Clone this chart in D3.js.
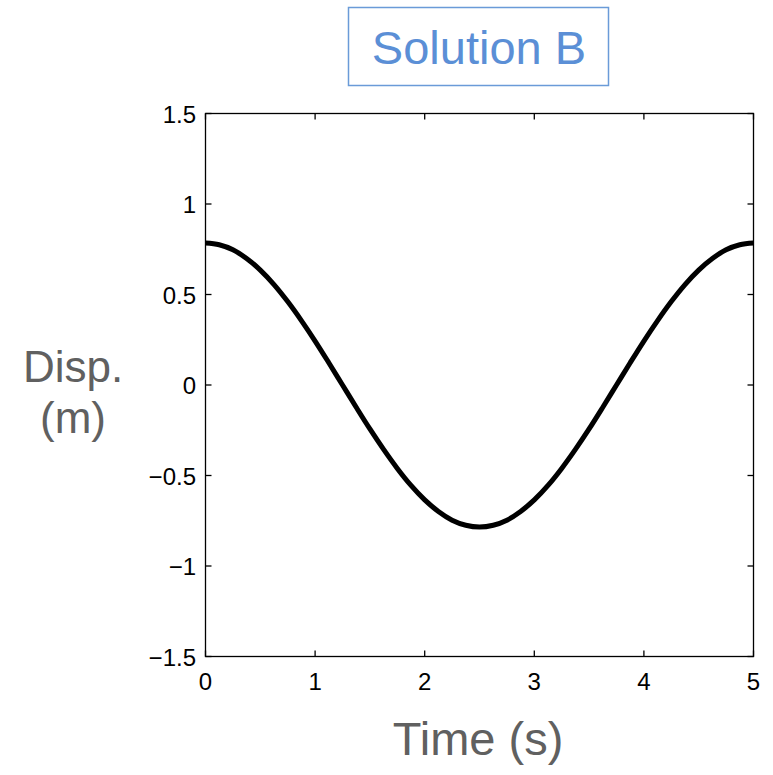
<!DOCTYPE html>
<html><head><meta charset="utf-8">
<script src="https://cdn.jsdelivr.net/npm/d3@7"></script>
<style>html,body{margin:0;padding:0;background:#fff;}svg{display:block;}</style>
</head><body>
<script>
const timeValues = [0,0.125,0.25,0.375,0.5,0.625,0.75,0.875,1,1.125,1.25,1.375,1.5,1.625,1.75,1.875,2,2.125,2.25,2.375,2.5,
  2.625,2.75,2.875,3,3.125,3.25,3.375,3.5,3.625,3.75,3.875,4,4.125,4.25,4.375,4.5,4.625,4.75,4.875,5];
const dispValues = [0.785,0.775,0.747,0.699,0.635,0.555,0.461,0.356,0.243,0.123,0,-0.123,-0.243,-0.356,-0.461,-0.555,-0.635,-0.699,-0.747,-0.775,-0.785,
  -0.775,-0.747,-0.699,-0.635,-0.555,-0.461,-0.356,-0.243,-0.123,0,0.123,0.243,0.356,0.461,0.555,0.635,0.699,0.747,0.775,0.785];
const xTicks = [0,1,2,3,4,5];
const yTicks = [-1.5,-1,-0.5,0,0.5,1,1.5];
const yTickLabels = ["\u22121.5","\u22121","\u22120.5","0","0.5","1","1.5"];

const W = 773, H = 775;
const L = 205.5, R = 753.5, T = 113.5, B = 656.5;
const svg = d3.select("body").append("svg").attr("width", W).attr("height", H);
const x = d3.scaleLinear().domain([0,5]).range([L,R]);
const y = d3.scaleLinear().domain([-1.5,1.5]).range([B,T]);
const font = "'Liberation Sans', Arial, Helvetica, sans-serif";

// title box
svg.append("rect").attr("x",348.5).attr("y",7.5).attr("width",260).attr("height",78)
  .attr("fill","none").attr("stroke","#6a9bd8").attr("stroke-width",1.5);
svg.append("text").attr("x",479).attr("y",64).attr("text-anchor","middle")
  .attr("font-family",font).attr("font-size",47).attr("fill","#5b8fd6").text("Solution B");

// plot frame
svg.append("rect").attr("x",L).attr("y",T).attr("width",R-L).attr("height",B-T)
  .attr("fill","none").attr("stroke","#000").attr("stroke-width",1.3);

const tl = 6;
const g = svg.append("g").attr("stroke","#000").attr("stroke-width",1.3);
xTicks.forEach(v => {
  g.append("line").attr("x1",x(v)).attr("x2",x(v)).attr("y1",B).attr("y2",B-tl);
  g.append("line").attr("x1",x(v)).attr("x2",x(v)).attr("y1",T).attr("y2",T+tl);
});
yTicks.forEach(v => {
  g.append("line").attr("x1",L).attr("x2",L+tl).attr("y1",y(v)).attr("y2",y(v));
  g.append("line").attr("x1",R).attr("x2",R-tl).attr("y1",y(v)).attr("y2",y(v));
});

// tick labels
svg.append("g").selectAll("text").data(xTicks).join("text")
  .attr("x",d=>x(d)).attr("y",690).attr("text-anchor","middle")
  .attr("font-family",font).attr("font-size",24).attr("fill","#000").text(d=>d);
svg.append("g").selectAll("text").data(yTicks).join("text")
  .attr("x",196).attr("y",d=>y(d)+9).attr("text-anchor","end")
  .attr("font-family",font).attr("font-size",24).attr("fill","#000")
  .text((d,i)=>yTickLabels[i]);

// axis labels
svg.append("text").attr("x",478).attr("y",755).attr("text-anchor","middle")
  .attr("font-family",font).attr("font-size",47).attr("fill","#606060").text("Time (s)");
svg.append("text").attr("x",73).attr("y",382).attr("text-anchor","middle")
  .attr("font-family",font).attr("font-size",44).attr("fill","#606060").text("Disp.");
svg.append("text").attr("x",73).attr("y",433).attr("text-anchor","middle")
  .attr("font-family",font).attr("font-size",44).attr("fill","#606060").text("(m)");

// curve
const line = d3.line().x((d,i)=>x(timeValues[i])).y(d=>y(d)).curve(d3.curveMonotoneX);
svg.append("path").datum(dispValues).attr("d",line).attr("fill","none")
  .attr("stroke","#000").attr("stroke-width",5).attr("stroke-linejoin","round");
</script>
</body></html>
